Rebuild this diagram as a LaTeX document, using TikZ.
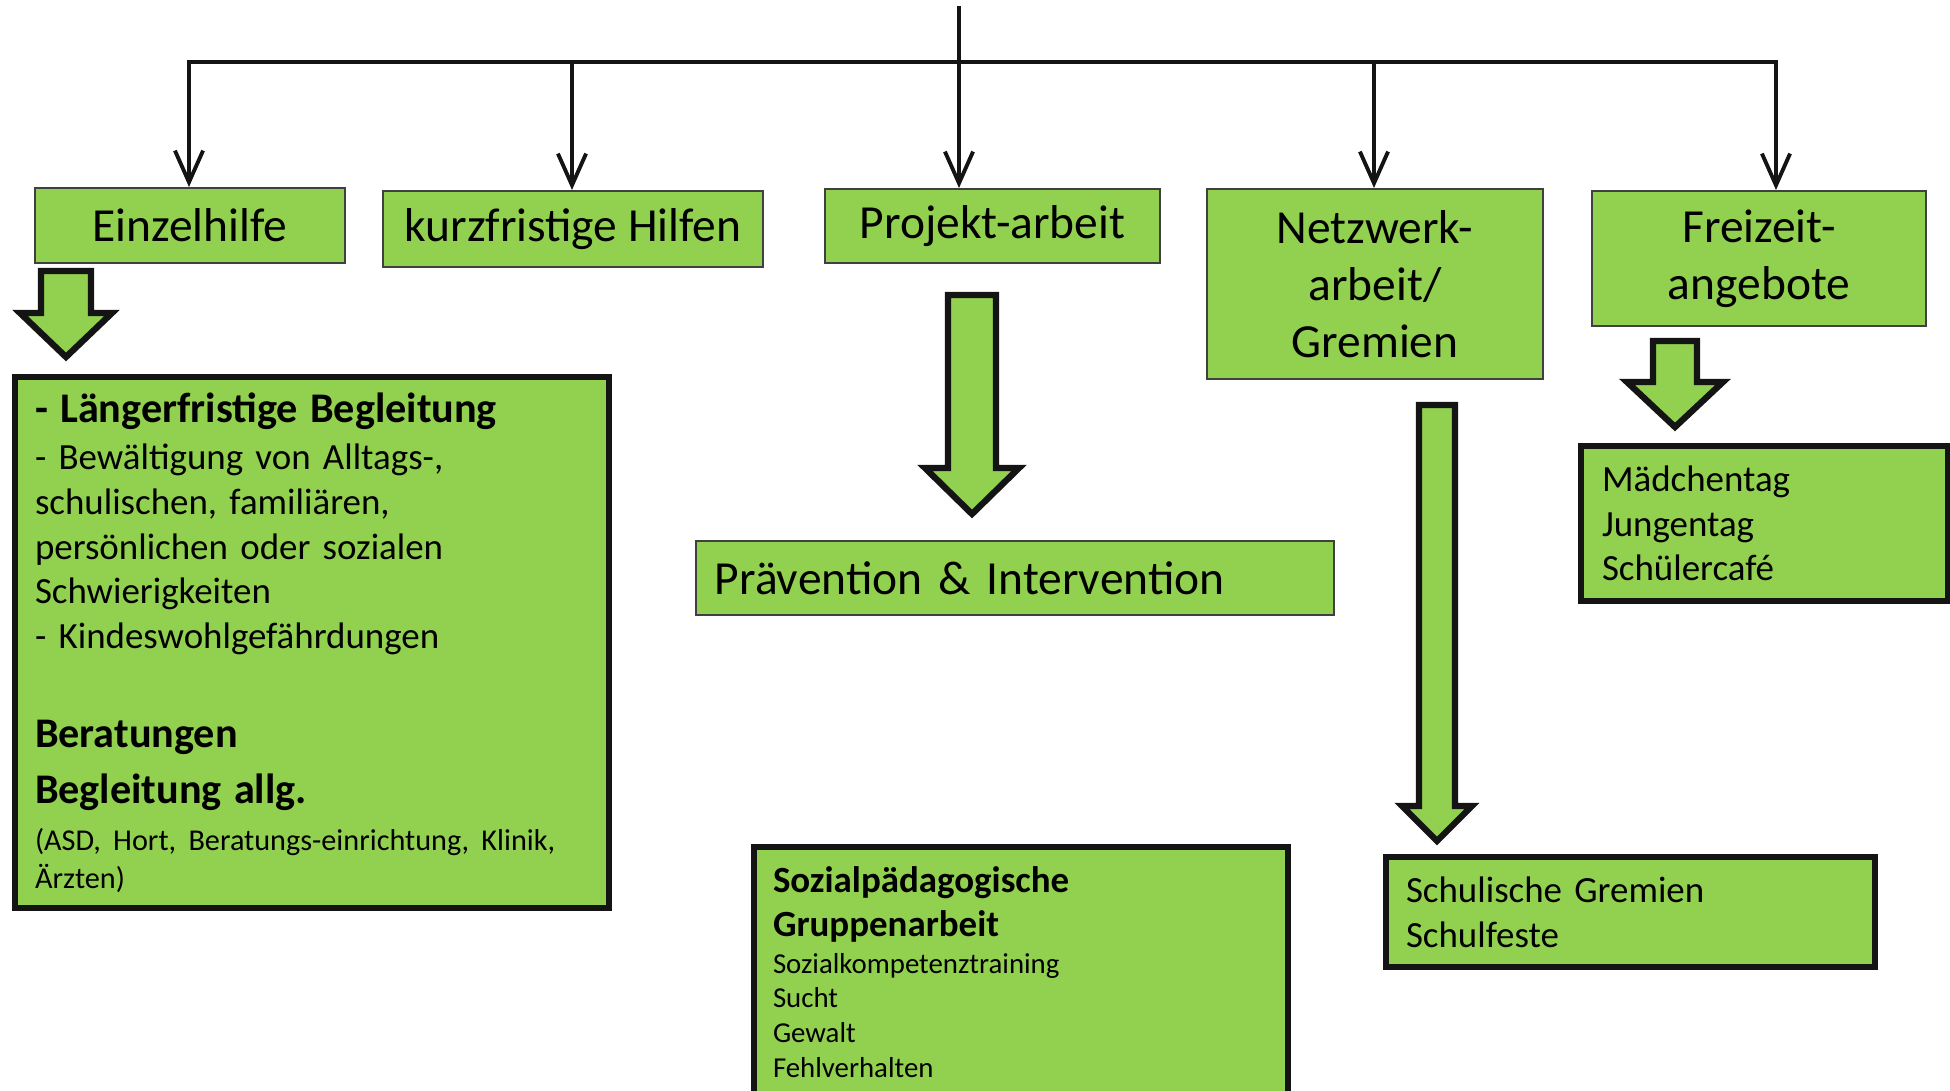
\documentclass[tikz,border=0pt]{standalone}
\usepackage{fontspec}
\setmainfont{Carlito}
\usetikzlibrary{arrows.meta}
\definecolor{lgreen}{HTML}{92D050}
\tikzset{>={Straight Barb[length=9pt,width=8pt]}}
\tikzset{
    head/.style={draw=black!75, line width=0.5pt, fill=lgreen, anchor=north west, align=center, inner sep=0pt, font=\fontsize{13.5}{16.2}\selectfont},
    info/.style={draw=black!92, line width=1.7pt, fill=lgreen, anchor=north west, align=left, inner ysep=0pt, font=\fontsize{10.5}{12.7}\selectfont},
    link/.style={->, line width=1.1pt, draw=black!92},
    fat/.style={draw=black!92, line width=1.8pt, fill=lgreen, line join=miter}
}
\newcommand\fatarrow[6]{\draw[fat] (#1-#4,#2) -- (#1+#4,#2) -- (#1+#4,#5) -- (#1+#6,#5) -- (#1,#3) -- (#1-#6,#5) -- (#1-#4,#5) -- cycle;}
\newcommand\bigline[1]{{\bfseries\fontsize{12}{14}\selectfont #1}}
\newcommand\smallline[1]{{\fontsize{8.6}{10.5}\selectfont #1}}
\newcommand\tinyline[1]{{\fontsize{8.2}{10}\selectfont #1}}

\begin{document}
\begin{tikzpicture}[x=0.01cm, y=-0.01cm]
    \path[use as bounding box, clip] (0,0) rectangle (1950,1091);
    \node[head, minimum width=3.10cm, minimum height=0.75cm] (einz) at (34,187) {Einzelhilfe};
    \node[head, minimum width=3.80cm, minimum height=0.76cm] (kurz) at (382,190) {kurzfristige Hilfen};
    \node[head, minimum width=3.35cm, minimum height=0.74cm] (proj) at (824,188) {Projekt-arbeit};
    \node[head, minimum width=3.36cm, minimum height=1.90cm] (netz) at (1206,188) {Netzwerk-\\arbeit/\\Gremien};
    \node[head, minimum width=3.34cm, minimum height=1.35cm] (frei) at (1591,190) {Freizeit-\\angebote};
    \node[head, align=left, text width=6.0cm, inner xsep=0.19cm, minimum height=0.74cm] (praev) at (695,540) {Prävention \& Intervention};
    \node[info, text width=5.54cm, inner xsep=0.2cm, minimum height=5.31cm] (einzinfo) at (12,374) {%
        \bigline{- Längerfristige Begleitung}\\[0.7pt]
        - Bewältigung von Alltags-,\\
        schulischen, familiären,\\
        persönlichen oder sozialen\\
        Schwierigkeiten\\
        - Kindeswohlgefährdungen\\[15.6pt]
        \bigline{Beratungen}\\[3.2pt]
        \bigline{Begleitung allg.}\\[0.7pt]
        \smallline{(ASD, Hort, Beratungs-einrichtung, Klinik,}\\[-2.1pt]
        \smallline{Ärzten)}};
    \node[info, text width=4.96cm, inner xsep=0.19cm, minimum height=2.50cm] (gruppe) at (751,844) {%
        \textbf{Sozialpädagogische}\\
        \textbf{Gruppenarbeit}\\[-2.4pt]
        \tinyline{Sozialkompetenztraining}\\[-2.8pt]
        \tinyline{Sucht}\\[-2.8pt]
        \tinyline{Gewalt}\\[-2.8pt]
        \tinyline{Fehlverhalten}};
    \node[info, text width=4.49cm, inner xsep=0.2cm, minimum height=1.10cm] (netzinfo) at (1383,854) {Schulische Gremien\\ Schulfeste};
    \node[info, text width=3.25cm, inner xsep=0.21cm, minimum height=1.55cm] (freiinfo) at (1578,443) {Mädchentag\\ Jungentag\\ Schülercafé};
    \coordinate (top) at (959,6);
    \coordinate (busL) at (189,62);
    \coordinate (busR) at (1776,62);
    \draw[line width=1.1pt, draw=black!92, line cap=rect] (busL) -- (busR);
    \draw[link] (top) -- (top |- proj.north);
    \foreach \n/\x in {einz/189, kurz/572, netz/1374, frei/1776}
        \draw[link] (\x,62) -- (\x,0 |- \n.north);
    \fatarrow{66}{271}{357}{25}{313}{46}
    \fatarrow{972}{295}{514}{24}{468}{47}
    \fatarrow{1437}{405}{841}{18}{806}{35}
    \fatarrow{1675}{341}{427}{22}{382}{48}
\end{tikzpicture}
\end{document}
